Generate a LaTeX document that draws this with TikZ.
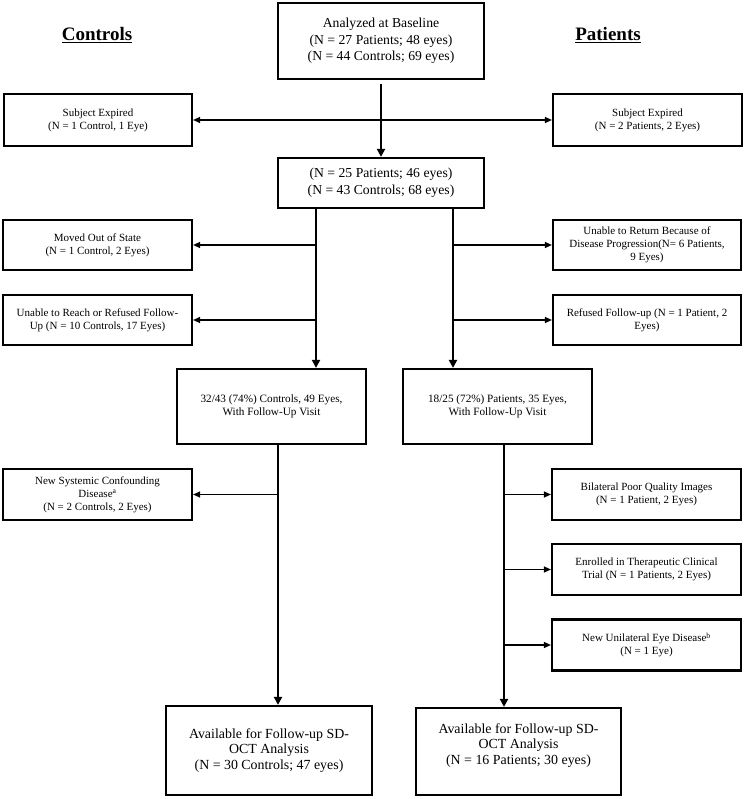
\documentclass[tikz,border=0pt]{standalone}
\usepackage{fontspec}
\setmainfont{Liberation Serif}
\usetikzlibrary{arrows.meta}
\begin{document}
\begin{tikzpicture}[x=1pt,y=-1pt,
  box/.style={draw, line width=2.2pt, align=center, inner sep=2pt},
  small/.style={font=\fontsize{11}{13}\selectfont},
  mid/.style={font=\fontsize{11.2}{13.5}\selectfont},
  big/.style={font=\fontsize{13.7}{16.7}\selectfont},
  final/.style={font=\fontsize{13.9}{15.5}\selectfont},
  grouptitle/.style={font=\bfseries\fontsize{19}{22}\selectfont},
  trunkarrow/.style={line width=2.6pt, -{Triangle[length=8pt,width=8pt]}},
  branch/.style={line width=1.2pt, -{Triangle[length=7pt,width=6pt]}},
  both/.style={line width=1.2pt, {Triangle[length=7pt,width=6pt]}-{Triangle[length=7pt,width=6pt]}},
]
\useasboundingbox (0,0) rectangle (744,799);

% titles
\node[grouptitle] (ctl) at (97,35) {\underline{Controls}};
\node[grouptitle] (pat) at (608,35) {\underline{Patients}};

% main column
\node[box,big,minimum width=206pt,minimum height=76pt] (top) at (381,41)
  {Analyzed at Baseline\\(N = 27 Patients; 48 eyes)\\(N = 44 Controls; 69 eyes)};
\node[box,small,minimum width=188pt,minimum height=52pt] (seL) at (98,120)
  {Subject Expired\\(N = 1 Control, 1 Eye)};
\node[box,small,minimum width=189pt,minimum height=52pt] (seR) at (647.5,120)
  {Subject Expired\\(N = 2 Patients, 2 Eyes)};
\node[box,big,minimum width=206pt,minimum height=50pt] (box2) at (381,183)
  {(N = 25 Patients; 46 eyes)\\(N = 43 Controls; 68 eyes)};

% first exclusions
\node[box,small,minimum width=189pt,minimum height=50pt] (moved) at (97.5,245)
  {Moved Out of State\\(N = 1 Control, 2 Eyes)};
\node[box,small,minimum width=189pt,minimum height=50pt] (reach) at (97.5,320)
  {Unable to Reach or Refused Follow-\\Up (N = 10 Controls, 17 Eyes)};
\node[box,small,minimum width=188pt,minimum height=50pt] (ret) at (647,245)
  {Unable to Return Because of\\Disease Progression(N= 6 Patients,\\9 Eyes)};
\node[box,small,minimum width=188pt,minimum height=50pt] (refused) at (647,320)
  {Refused Follow-up (N = 1 Patient, 2\\Eyes)};

% follow-up visit boxes
\node[box,mid,minimum width=189pt,minimum height=75pt] (b3L) at (271.5,406.5)
  {32/43 (74\%) Controls, 49 Eyes,\\With Follow-Up Visit};
\node[box,mid,minimum width=189pt,minimum height=75pt] (b3R) at (497.5,406.5)
  {18/25 (72\%) Patients, 35 Eyes,\\With Follow-Up Visit};

% second exclusions
\node[box,small,minimum width=189pt,minimum height=51pt] (sys) at (97.5,494.5)
  {New Systemic Confounding\\Disease\textsuperscript{a}\\(N = 2 Controls, 2 Eyes)};
\node[box,small,minimum width=189pt,minimum height=51pt] (bil) at (646.5,494.5)
  {Bilateral Poor Quality Images\\(N = 1 Patient, 2 Eyes)};
\node[box,small,minimum width=189pt,minimum height=51pt] (enr) at (646.5,569.5)
  {Enrolled in Therapeutic Clinical\\Trial (N = 1 Patients, 2 Eyes)};
\node[box,small,minimum width=189pt,minimum height=51pt] (uni) at (646.5,645)
  {New Unilateral Eye Disease\textsuperscript{b}\\(N = 1 Eye)};

% final boxes
\node[box,final,minimum width=206pt,minimum height=89pt] (finL) at (269,750.5)
  {Available for Follow-up SD-\\OCT Analysis\\(N = 30 Controls; 47 eyes)};
\node[box,final,minimum width=205pt,minimum height=87pt] (finR) at (518.5,751.5)
  {Available for Follow-up SD-\\OCT Analysis\\(N = 16 Patients; 30 eyes)\\\mbox{}};

% trunk coordinates
\coordinate (L1) at (316,0);
\coordinate (R1) at (453,0);
\coordinate (L2) at (278,0);
\coordinate (R2) at (504,0);

% connectors
\draw[both] (seL.east) -- (seR.west);
\draw[trunkarrow, shorten <=4pt] (top.south) -- (top.south |- box2.north);
\draw[trunkarrow] (box2.south -| L1) -- (b3L.north -| L1);
\draw[trunkarrow] (box2.south -| R1) -- (b3R.north -| R1);
\draw[branch] (L1 |- moved) -- (moved.east);
\draw[branch] (L1 |- reach) -- (reach.east);
\draw[branch] (R1 |- ret) -- (ret.west);
\draw[branch] (R1 |- refused) -- (refused.west);
\draw[trunkarrow] (b3L.south -| L2) -- (finL.north -| L2);
\draw[trunkarrow] (b3R.south -| R2) -- (finR.north -| R2);
\draw[branch] (L2 |- sys) -- (sys.east);
\draw[branch] (R2 |- bil) -- (bil.west);
\draw[branch] (R2 |- enr) -- (enr.west);
\draw[branch] (R2 |- uni) -- (uni.west);
\end{tikzpicture}
\end{document}
